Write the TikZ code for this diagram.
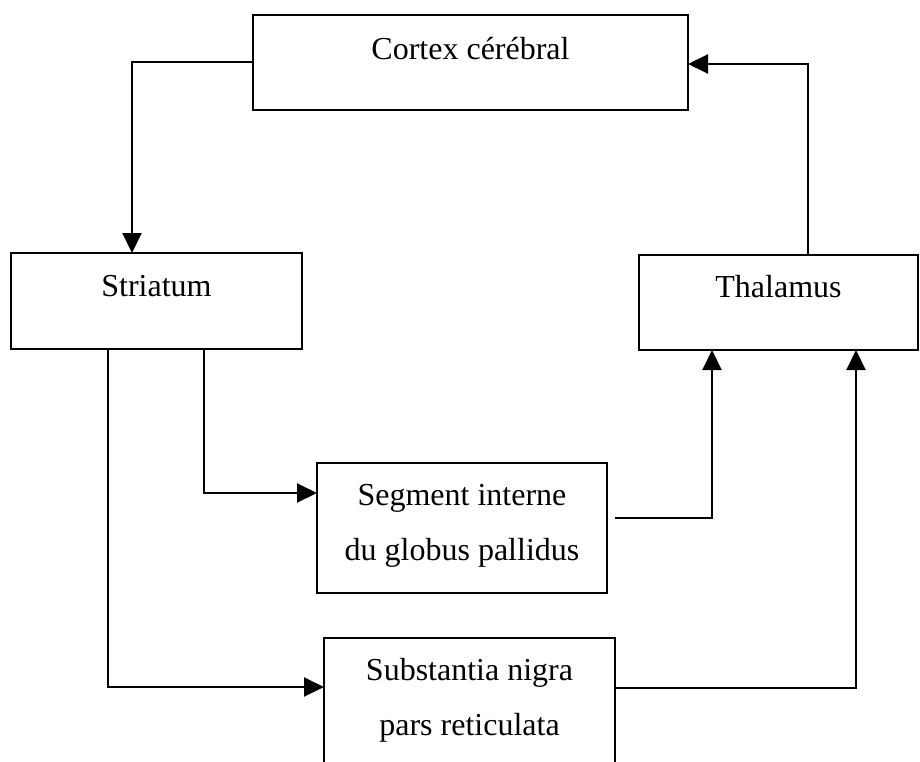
\documentclass[tikz,border=0pt]{standalone}
\usepackage{fontspec}
\setmainfont{Liberation Serif}
\usetikzlibrary{arrows.meta}
\begin{document}
\begin{tikzpicture}[x=1pt,y=-1pt,
  box/.style={draw,line width=2pt,rectangle,inner sep=0pt,outer sep=0pt},
  lbl/.style={font=\fontsize{32}{36}\selectfont,anchor=base,inner sep=0pt},
  arr/.style={line width=2pt,-{Triangle[length=20pt,width=19pt]}},
  ln/.style={line width=2pt}]
\useasboundingbox (0,0) rectangle (920,762);
\clip (0,0) rectangle (920,762);
% boxes
\node[box,minimum width=435pt,minimum height=95pt] (cortex) at (470.5,62.5) {};
\node[box,minimum width=291pt,minimum height=96pt] (striatum) at (156.5,301) {};
\node[box,minimum width=279pt,minimum height=95pt] (thalamus) at (778.5,302.5) {};
\node[box,minimum width=290pt,minimum height=130pt] (segment) at (462,528) {};
\node[box,minimum width=291pt,minimum height=152pt] (nigra) at (469.5,714) {};
% labels
\node[lbl] (cortext) at (470.5,60) {Cortex cérébral};
\node[lbl] (striatext) at (156.5,296) {Striatum};
\node[lbl] (thaltext) at (778.5,297) {Thalamus};
\node[lbl] (segtexta) at (462,505) {Segment interne};
\node[lbl] (segtextb) at (462,560) {du globus pallidus};
\node[lbl] (nigtexta) at (469.5,680) {Substantia nigra};
\node[lbl] (nigtextb) at (469.5,735) {pars reticulata};
% helper coordinates on box borders
\coordinate (strin) at (132,253);
\coordinate (thalout) at (808,255);
\coordinate (cortin) at (688,64);
\coordinate (strouta) at (204,349);
\coordinate (stroutb) at (108,349);
\coordinate (segin) at (317,493);
\coordinate (nigin) at (324,687);
\coordinate (segout) at (615,518);
\coordinate (thalina) at (712,350);
\coordinate (nigout) at (615,688);
\coordinate (thalinb) at (856,350);
% connectors
\draw[arr] (cortex.west) -| (strin);
\draw[arr] (thalout) |- (cortin);
\draw[arr] (strouta) |- (segin);
\draw[arr] (stroutb) |- (nigin);
\draw[arr] (segout) -| (thalina);
\draw[arr] (nigout) -| (thalinb);
\end{tikzpicture}
\end{document}
